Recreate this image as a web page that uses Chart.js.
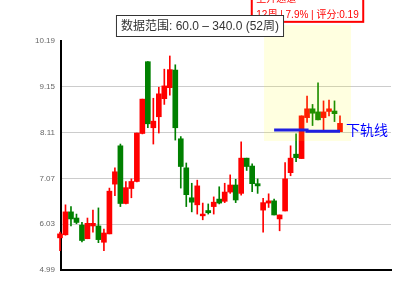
<!DOCTYPE html>
<html>
<head>
<meta charset="utf-8">
<script src="https://cdn.jsdelivr.net/npm/chart.js@4.4.1/dist/chart.umd.min.js"></script>
<style>
  html, body { margin: 0; padding: 0; background: #fff; }
</style>
</head>
<body>
<canvas id="chart" width="400" height="300"></canvas>
<script>
// Weekly candles (52 weeks)
const weeks = [1, 2, 3, 4, 5, 6, 7, 8, 9, 10, 11, 12, 13, 14, 15, 16, 17, 18, 19, 20,
  21, 22, 23, 24, 25, 26, 27, 28, 29, 30, 31, 32, 33, 34, 35, 36, 37, 38, 39, 40,
  41, 42, 43, 44, 45, 46, 47, 48, 49, 50, 51, 52];
const openP = [5.72, 5.79, 6.31, 6.17, 6.01, 5.70, 5.99, 5.99, 5.62, 5.81,
  6.94, 7.81, 6.50, 6.84, 7.00, 8.09, 9.72, 8.22, 8.47, 8.88,
  9.13, 9.53, 7.97, 7.31, 6.63, 6.47, 6.22, 6.34, 6.43, 6.60,
  6.55, 6.76, 6.92, 6.73, 7.53, 7.35, 6.95, 6.35, 6.51, 6.56,
  6.15, 6.33, 7.20, 7.62, 7.52, 8.45, 8.65, 8.58, 8.45, 8.59,
  8.60, 8.13];
const highP = [5.85, 6.47, 6.43, 6.26, 6.07, 6.17, 6.35, 6.40, 5.92, 6.85,
  7.31, 7.85, 7.00, 7.06, 8.10, 8.87, 9.72, 8.89, 9.14, 9.55,
  9.85, 9.65, 8.02, 7.42, 6.96, 7.03, 6.51, 6.49, 6.65, 6.88,
  6.96, 7.15, 7.05, 7.90, 7.53, 7.40, 7.06, 6.62, 6.72, 6.60,
  6.24, 7.43, 7.81, 8.08, 8.49, 8.94, 8.75, 9.24, 8.83, 8.85,
  8.83, 8.49];
const lowP = [5.43, 5.78, 5.99, 6.04, 5.63, 5.70, 5.85, 5.61, 5.43, 5.81,
  6.68, 6.43, 6.49, 6.63, 6.99, 8.08, 8.22, 7.85, 8.10, 8.75,
  8.96, 7.94, 6.85, 6.43, 6.31, 6.26, 6.13, 6.26, 6.26, 6.49,
  6.52, 6.73, 6.52, 6.69, 7.25, 6.77, 6.73, 5.85, 6.41, 6.24,
  5.88, 6.33, 7.13, 7.45, 7.52, 8.34, 8.27, 8.40, 8.17, 8.49,
  8.36, 8.13];
const closeP = [5.81, 6.31, 6.15, 6.07, 5.66, 6.05, 6.05, 5.68, 5.83, 6.78,
  7.22, 6.50, 6.86, 7.00, 8.10, 8.87, 8.31, 8.37, 8.99, 9.17,
  9.54, 8.22, 7.34, 6.70, 6.53, 6.90, 6.26, 6.29, 6.53, 6.51,
  6.76, 6.92, 6.58, 7.53, 7.34, 6.95, 6.90, 6.52, 6.56, 6.24,
  6.24, 7.06, 7.53, 7.54, 8.49, 8.65, 8.55, 8.40, 8.58, 8.65,
  8.54, 8.32];

// y axis ticks
const yTicks = [4.99, 6.03, 7.07, 8.11, 9.15, 10.19];

// lower rail of the channel
const railWeeks = [40, 46, 46, 52];
const railValues = [8.17, 8.17, 8.14, 8.14];

// channel info
const channelTitle = '上升通道';
const channelInfo = '12周 | 7.9% | 评分:0.19';
const rangeText = '数据范围: 60.0 – 340.0 (52周)';
const railLabel = '下轨线';

const UP = '#ff0000';
const DOWN = '#008000';
const FONT = 'Arial, "Liberation Sans", "Noto Sans CJK SC", sans-serif';

const colors = weeks.map((w, i) => closeP[i] >= openP[i] ? UP : DOWN);
const bodies = weeks.map((w, i) => ({ x: w, y: [openP[i], closeP[i]] }));
const wicks = weeks.map((w, i) => ({ x: w, y: [lowP[i], highP[i]] }));

// Overlay: highlighted zone, labels, boxes
const overlay = {
    id: 'overlay',
    afterDatasetsDraw(chart) {
        const { ctx, scales: { x, y } } = chart;
        ctx.save();

        // highlighted zone (week 38.2 .. 54, price 7.92 .. 10.55)
        const zx0 = x.getPixelForValue(38.16);
        const zx1 = x.getPixelForValue(54.0);
        const zy0 = y.getPixelForValue(10.55);
        const zy1 = y.getPixelForValue(7.92);
        ctx.fillStyle = 'rgba(255,255,0,0.12)';
        ctx.fillRect(zx0, zy0, zx1 - zx0, zy1 - zy0);

        // rail label
        const lastX = x.getPixelForValue(railWeeks[railWeeks.length - 1]);
        const lastY = y.getPixelForValue(railValues[railValues.length - 1]);
        ctx.font = '14px ' + FONT;
        ctx.fillStyle = '#0000ff';
        ctx.textAlign = 'left';
        ctx.textBaseline = 'middle';
        ctx.fillText(railLabel, lastX + 6, lastY);

        // channel info box above the zone
        ctx.font = '10px ' + FONT;
        const w = Math.max(ctx.measureText(channelTitle).width, ctx.measureText(channelInfo).width) + 9;
        const cx = (zx0 + zx1) / 2;
        const bx = cx - w / 2;
        ctx.fillStyle = '#fff';
        ctx.fillRect(bx, -12, w, zy0 - 3.3 + 12);
        ctx.strokeStyle = UP;
        ctx.lineWidth = 2;
        ctx.strokeRect(bx, -12, w, zy0 - 3.3 + 12);
        ctx.fillStyle = UP;
        ctx.fillText(channelTitle, bx + 4.5, -1);
        ctx.fillText(channelInfo, bx + 4.5, 15);

        // data range box
        ctx.font = '12px ' + FONT;
        const tw = ctx.measureText(rangeText).width;
        const rx = chart.width / 2 - tw / 2 - 5;
        ctx.fillStyle = '#fff';
        ctx.fillRect(rx, 15, tw + 10, 22);
        ctx.strokeStyle = '#333';
        ctx.lineWidth = 1;
        ctx.strokeRect(rx + 0.5, 15.5, tw + 9, 21);
        ctx.fillStyle = '#333';
        ctx.textAlign = 'center';
        ctx.fillText(rangeText, chart.width / 2, 26.5);

        ctx.restore();
    }
};

new Chart(document.getElementById('chart'), {
    type: 'bar',
    data: {
        datasets: [
            {
                type: 'line',
                data: railWeeks.map((w, i) => ({ x: w, y: railValues[i] })),
                borderColor: '#0000ff',
                borderWidth: 3,
                pointRadius: 0,
                fill: false,
                order: 0,
                clip: false
            },
            {
                data: bodies,
                backgroundColor: colors,
                barThickness: 5,
                minBarLength: 1,
                grouped: false,
                order: 1,
                clip: false
            },
            {
                data: wicks,
                backgroundColor: colors,
                barThickness: 1,
                grouped: false,
                order: 2,
                clip: false
            }
        ]
    },
    options: {
        responsive: false,
        animation: false,
        devicePixelRatio: 1,
        layout: { padding: { left: 0, right: 9, top: 41, bottom: 30 } },
        plugins: { legend: { display: false }, tooltip: { enabled: false } },
        scales: {
            x: {
                type: 'linear',
                offset: false,
                min: 1.182,
                max: 61.29,
                ticks: { display: false },
                grid: { display: false, drawTicks: false },
                border: { color: '#000', width: 2 },
                afterFit: s => { s.height = 0; }
            },
            y: {
                min: 4.99,
                max: 10.19,
                afterBuildTicks: s => { s.ticks = yTicks.map(v => ({ value: v })); },
                ticks: {
                    color: '#666',
                    padding: 6,
                    font: { size: 8, family: FONT },
                    callback: v => Number(v).toFixed(2)
                },
                grid: {
                    drawTicks: false,
                    lineWidth: 1,
                    color: c => (c.tick && c.tick.value === 10.19) ? 'rgba(0,0,0,0)' : '#cccccc'
                },
                border: { color: '#000', width: 2 },
                afterFit: s => { s.width = 61; }
            }
        }
    },
    plugins: [overlay]
});
</script>
</body>
</html>
